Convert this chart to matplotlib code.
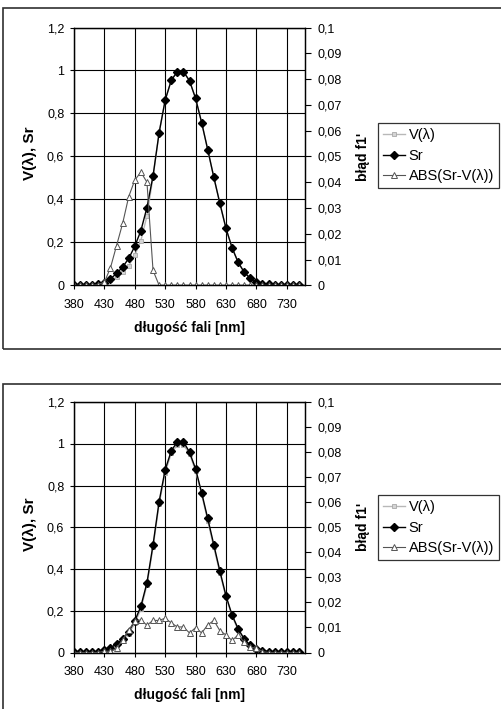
import matplotlib.pyplot as plt
from matplotlib.patches import Rectangle

plt.rcParams['font.family'] = ['Liberation Sans', 'DejaVu Sans']

W, H = 502, 709

# data
wavelength = list(range(380, 760, 10))
v_lambda = [0.00004, 0.00012, 0.0004, 0.0012, 0.004, 0.0116, 0.023, 0.038, 0.06, 0.091,
            0.139, 0.208, 0.323, 0.503, 0.71, 0.862, 0.954, 0.995, 0.995, 0.952,
            0.87, 0.757, 0.631, 0.503, 0.381, 0.265, 0.175, 0.107, 0.061, 0.032,
            0.017, 0.0082, 0.0041, 0.0021, 0.00105, 0.00052, 0.00025, 0.00012]

sr_top = [0.0001, 0.0002, 0.0005, 0.0015, 0.0045, 0.013, 0.030, 0.055, 0.085, 0.125,
          0.182, 0.254, 0.362, 0.509, 0.71, 0.862, 0.954, 0.995, 0.995, 0.952,
          0.87, 0.757, 0.631, 0.503, 0.381, 0.265, 0.175, 0.107, 0.061, 0.032,
          0.017, 0.0082, 0.0041, 0.0021, 0.00105, 0.00052, 0.00025, 0.00012]
err_top = [0, 0, 0, 0, 0.0003, 0.0012, 0.0068, 0.0154, 0.024, 0.0344,
           0.0408, 0.0439, 0.040, 0.0058, 0, 0, 0, 0, 0, 0,
           0, 0, 0, 0, 0, 0, 0, 0, 0, 0,
           0, 0, 0, 0, 0, 0, 0, 0]

sr_bottom = [0.0001, 0.0002, 0.0005, 0.0015, 0.0045, 0.0121, 0.0235, 0.0397, 0.065, 0.0998,
             0.1517, 0.221, 0.334, 0.5158, 0.7228, 0.8757, 0.9658, 1.01, 1.01, 0.9598,
             0.8799, 0.7648, 0.642, 0.5158, 0.3897, 0.272, 0.1798, 0.114, 0.065, 0.034,
             0.0188, 0.0085, 0.0041, 0.0021, 0.00105, 0.0005, 0.00025, 0.00012]
err_bottom = [0, 0, 0, 0, 0, 0.0005, 0.0005, 0.0017, 0.005, 0.0088,
              0.0127, 0.0130, 0.0109, 0.0128, 0.0128, 0.0137, 0.0118, 0.0102, 0.0102, 0.0078,
              0.0099, 0.0078, 0.0110, 0.0128, 0.0087, 0.0070, 0.0048, 0.0070, 0.0040, 0.0020,
              0.0018, 0.0003, 0, 0, 0, 0, 0, 0]

x_ticks = list(range(380, 740, 50))
left_ticks = [0, 0.2, 0.4, 0.6, 0.8, 1.0, 1.2]
right_ticks = [i / 100 for i in range(11)]


def comma(v):
    s = ('%g' % round(v, 3))
    return s.replace('.', ',')


def draw_panel(fig, top, bottom, box_top, box_bottom, legend_top, sr, err):
    ax = fig.add_axes([74 / W, 1 - bottom / H, 231 / W, (bottom - top) / H])
    ax2 = ax.twinx()

    ax.plot(wavelength, v_lambda, color='#b8b8b8', lw=1.0, marker='s', ms=3,
            mfc='#d4d4d4', mec='#a8a8a8', mew=0.6, label='V(λ)')
    ax.plot(wavelength, sr, color='black', lw=1.0, marker='D', ms=3.6,
            mfc='black', mec='black', label='Sr')
    ax2.plot(wavelength, err, color='#555555', lw=0.8, marker='^', ms=4.5,
             mfc='white', mec='#555555', mew=0.7, label='ABS(Sr-V(λ))')

    ax.set_xlim(380, 760)
    ax.set_ylim(0, 1.2)
    ax2.set_ylim(0, 0.1)
    ax.set_xticks(x_ticks)
    ax.set_yticks(left_ticks)
    ax.set_yticklabels([comma(v) for v in left_ticks])
    ax2.set_yticks(right_ticks)
    ax2.set_yticklabels([comma(v) for v in right_ticks])
    ax.grid(True, color='black', lw=0.8)
    for a in (ax, ax2):
        for sp in a.spines.values():
            sp.set_linewidth(0.9)
    ax.tick_params(axis='x', length=3, width=0.8, pad=7, labelsize=9)
    ax.tick_params(axis='y', length=3, width=0.8, pad=4, labelsize=9)
    ax2.tick_params(axis='y', length=4, width=0.8, pad=5, labelsize=9)

    mid = (top + bottom) / 2
    fig.text(30 / W, 1 - (mid - 3) / H, 'V(λ), Sr', rotation=90, ha='center',
             va='center', fontsize=11, fontweight='bold')
    fig.text(363 / W, 1 - mid / H, "błąd f1'", rotation=90, ha='center', va='center',
             fontsize=10, fontweight='bold')
    fig.text(189.5 / W, 1 - (bottom + 43) / H, 'długość fali [nm]', ha='center',
             va='center', fontsize=10, fontweight='bold')

    handles = ax.get_lines() + ax2.get_lines()
    leg = fig.legend(handles=handles, loc='upper left',
                     bbox_to_anchor=(378 / W, 1 - legend_top / H),
                     frameon=True, fancybox=False, fontsize=10.5,
                     borderaxespad=0, handlelength=1.5, handletextpad=0.25,
                     labelspacing=0.45, borderpad=0.35)
    leg.get_frame().set_edgecolor('black')
    leg.get_frame().set_linewidth(0.9)

    fig.patches.append(Rectangle((3.5 / W, 1 - box_bottom / H), 1.0,
                                 (box_bottom - box_top) / H,
                                 transform=fig.transFigure, fill=False,
                                 edgecolor='#303030', lw=1.2))


fig = plt.figure(figsize=(W / 100, H / 100), dpi=100)
draw_panel(fig, 27.5, 285.3, 8.3, 349, 123, sr_top, err_top)
draw_panel(fig, 402, 652.5, 384.3, 715, 495, sr_bottom, err_bottom)
fig.savefig('out.png', dpi=100)
